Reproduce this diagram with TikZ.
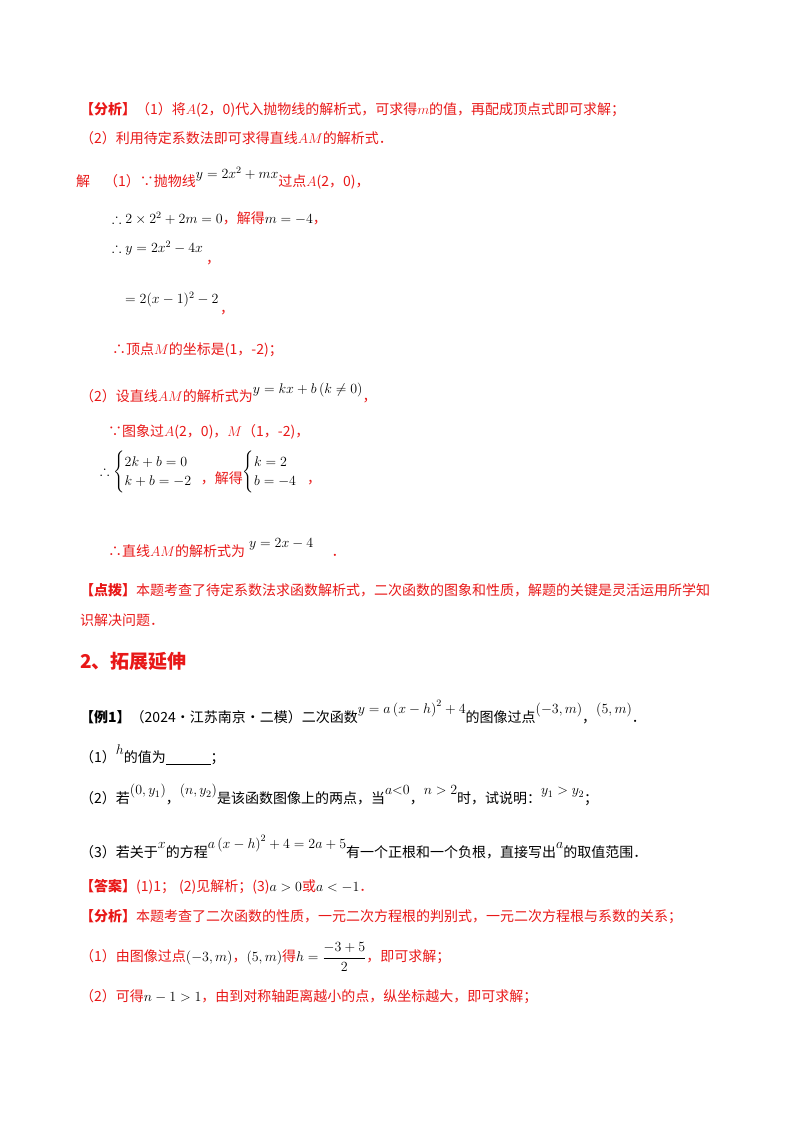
\RequirePackage{fix-cm}
\documentclass[tikz,border=0pt]{standalone}
\usepackage{amsmath}
\usepackage{amssymb}
\usepackage{fontspec}
\setmainfont{Noto Sans CJK SC}
\usetikzlibrary{positioning}
\definecolor{ansred}{RGB}{232,24,24}
\newcommand{\rd}[1]{\textcolor{ansred}{#1}}
\newcommand{\bk}[1]{\textcolor{black}{#1}}
\newcommand{\up}[1]{\raisebox{1.1ex}{#1}}

\begin{document}
\begin{tikzpicture}[x=1pt, y=-1pt,
    line/.style={anchor=west, inner sep=0pt, font=\fontsize{14}{16}\selectfont},
    redline/.style={line, text=ansred},
    head/.style={anchor=west, inner sep=0pt, text=ansred, font=\fontsize{19}{22}\selectfont\bfseries}
]
\useasboundingbox (0,0) rectangle (800,1132);

% === Analysis of the first problem ===
\node[redline] (fx1) at (80,110) {\textbf{【分析】}（1）将$A$(2，0)代入抛物线的解析式，可求得$m$的值，再配成顶点式即可求解；};
\node[redline] (fx2) at (80,138) {（2）利用待定系数法即可求得直线$AM$的解析式．};

% Solution part (1)
\node[line] (jie1) at (76,178) {\rd{解\quad（1）∵抛物线}\up{$y=2x^2+mx$}\rd{过点$A$(2，0)，}};
\node[line] (s1) at (112,218) {$\therefore 2\times2^2+2m=0$\rd{，解得}$m=-4$\rd{，}};
\node[line] (s2) at (112,248) {$\therefore y=2x^2-4x$};
\node[line, text=ansred] (s2c) at (206,263) {，};
\node[line] (s3) at (125,300) {$=2(x-1)^2-2$};
\node[line, text=ansred] (s3c) at (220,313) {，};
\node[redline] (s4) at (112,350) {∴顶点$M$的坐标是(1，-2)；};

% Solution part (2)
\node[line] (jie2) at (80,393) {\rd{（2）设直线$AM$的解析式为}\up{$y=kx+b\left(k\neq0\right)$}\rd{，}};
\node[redline] (t1) at (108,432) {∵图象过$A$(2，0)，$M$（1，-2)，};
\node[line] (t2) at (100,472) {$\therefore\begin{cases}2k+b=0\\k+b=-2\end{cases}$\hspace{-0.4em}\raisebox{-1.1ex}{\rd{，解得}}$\begin{cases}k=2\\b=-4\end{cases}$\hspace{-0.3em}\raisebox{-1.1ex}{\rd{，}}};
\node[line] (t3) at (108,548) {\rd{∴直线$AM$的解析式为}\up{$\;y=2x-4$}\rd{\hspace{1.3em}．}};

% Hint
\node[redline] (db1) at (80,590) {\textbf{【点拨】}本题考查了待定系数法求函数解析式，二次函数的图象和性质，解题的关键是灵活运用所学知};
\node[redline] (db2) at (80,620) {识解决问题．};

% === Section 2 ===
\node[head] (sec) at (80,661) {2、拓展延伸};

\node[line] (ex) at (80,712) {\textbf{【例1】}（2024·江苏南京·二模）二次函数\up{$y=a\left(x-h\right)^2+4$}的图像过点\up{$\left(-3,m\right)$}，\up{$\left(5,m\right)$}．};
\node[line] (q1) at (80,755) {（1）\up{$h$}的值为\underline{\hspace{3.2em}}；};
\node[line] (q2) at (80,795) {（2）若\up{$\left(0,y_1\right)$}，\up{$\left(n,y_2\right)$}是该函数图像上的两点，当\up{$a{<}0$}，\up{$n>2$}时，试说明：\up{$y_1>y_2$}；};
\node[line] (q3) at (80,847) {（3）若关于\up{$x$}的方程\up{$a\left(x-h\right)^2+4=2a+5$}有一个正根和一个负根，直接写出\up{$a$}的取值范围．};

\node[redline] (ans) at (80,887) {\textbf{【答案】}(1)1；\;(2)见解析；(3)\bk{$a>0$}或\bk{$a<-1$}．};
\node[redline] (fx3) at (80,917) {\textbf{【分析】}本题考查了二次函数的性质，一元二次方程根的判别式，一元二次方程根与系数的关系；};
\node[line] (fx4) at (80,957) {\rd{（1）由图像过点}$\left(-3,m\right)$\rd{，}$\left(5,m\right)$\rd{得}$h=\dfrac{-3+5}{2}$\rd{，即可求解；}};
\node[line] (fx5) at (80,997) {\rd{（2）可得}$n-1>1$\rd{，由到对称轴距离越小的点，纵坐标越大，即可求解；}};
\end{tikzpicture}
\end{document}
